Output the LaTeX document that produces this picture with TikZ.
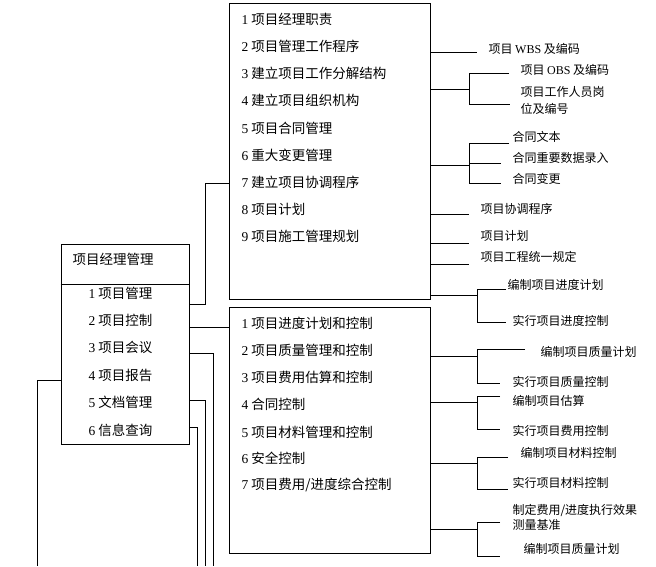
\documentclass[tikz,border=0pt]{standalone}
\usepackage{fontspec}
\setmainfont{Noto Sans CJK SC}
\newfontfamily\lat{Liberation Serif}

\begin{document}
\begin{tikzpicture}[x=1pt, y=-1pt, line width=1pt,
  box/.style={draw, inner sep=0pt},
  txt/.style={anchor=west, inner sep=0pt, font=\fontsize{13.5}{16}\selectfont},
  lbl/.style={anchor=west, inner sep=0pt, align=left, font=\fontsize{12}{17}\selectfont}]
  \useasboundingbox (0,0) rectangle (656,566);

  % les trois cadres
  \node[box, minimum width=201pt, minimum height=296pt] (A) at (329.5,151) {};
  \node[box, minimum width=201pt, minimum height=246pt] (B) at (329.5,430) {};
  \node[box, minimum width=128pt, minimum height=200pt] (C) at (125,344) {};
  \draw (C.west |- 0,284) -- (C.east |- 0,284);

  % cadre de gauche
  \node[txt] (C0) at (72,259) {项目经理管理};
  \node[txt] (C1) at (88,293) {{\lat 1} 项目管理};
  \node[txt] (C2) at (88,320) {{\lat 2} 项目控制};
  \node[txt] (C3) at (88,347) {{\lat 3} 项目会议};
  \node[txt] (C4) at (88,375) {{\lat 4} 项目报告};
  \node[txt] (C5) at (88,402) {{\lat 5} 文档管理};
  \node[txt] (C6) at (88,430) {{\lat 6} 信息查询};

  % cadre du haut
  \node[txt] (A1) at (241,19) {{\lat 1} 项目经理职责};
  \node[txt] (A2) at (241,46) {{\lat 2} 项目管理工作程序};
  \node[txt] (A3) at (241,73.5) {{\lat 3} 建立项目工作分解结构};
  \node[txt] (A4) at (241,100.5) {{\lat 4} 建立项目组织机构};
  \node[txt] (A5) at (241,128) {{\lat 5} 项目合同管理};
  \node[txt] (A6) at (241,155) {{\lat 6} 重大变更管理};
  \node[txt] (A7) at (241,182) {{\lat 7} 建立项目协调程序};
  \node[txt] (A8) at (241,209.5) {{\lat 8} 项目计划};
  \node[txt] (A9) at (241,236.5) {{\lat 9} 项目施工管理规划};

  % cadre du bas
  \node[txt] (B1) at (241,323) {{\lat 1} 项目进度计划和控制};
  \node[txt] (B2) at (241,350) {{\lat 2} 项目质量管理和控制};
  \node[txt] (B3) at (241,377) {{\lat 3} 项目费用估算和控制};
  \node[txt] (B4) at (241,404) {{\lat 4} 合同控制};
  \node[txt] (B5) at (241,432) {{\lat 5} 项目材料管理和控制};
  \node[txt] (B6) at (241,458) {{\lat 6} 安全控制};
  \node[txt] (B7) at (241,485) {{\lat 7} 项目费用/进度综合控制};

  % liaisons du cadre de gauche
  \draw (C.east |- 0,304) -- (205,304) |- (A.west |- 0,183);
  \draw (C.east |- 0,327) -- (B.west |- 0,327);
  \draw (C.east |- 0,353) -- (213,353) -- (213,566);
  \draw (C.west |- 0,380) -- (37,380) -- (37,566);
  \draw (C.east |- 0,400) -- (205,400) -- (205,566);
  \draw (C.east |- 0,427) -- (197,427) -- (197,566);

  % textes de droite
  \node[lbl] (wbs) at (488,49) {项目 {\lat WBS} 及编码};
  \node[lbl] (obs) at (520,70) {项目 {\lat OBS} 及编码};
  \node[lbl] (staff) at (520,100.5) {项目工作人员岗\\位及编号};
  \node[lbl] (ct1) at (512,137) {合同文本};
  \node[lbl] (ct2) at (512,158) {合同重要数据录入};
  \node[lbl] (ct3) at (512,179) {合同变更};
  \node[lbl] (coord) at (480,209) {项目协调程序};
  \node[lbl] (plan) at (480,236) {项目计划};
  \node[lbl] (rule) at (480,257) {项目工程统一规定};
  \node[lbl] (sch1) at (507,285) {编制项目进度计划};
  \node[lbl] (sch2) at (512,321) {实行项目进度控制};
  \node[lbl] (q1) at (540,352) {编制项目质量计划};
  \node[lbl] (q2) at (512,382) {实行项目质量控制};
  \node[lbl] (cost1) at (512,401) {编制项目估算};
  \node[lbl] (cost2) at (512,431) {实行项目费用控制};
  \node[lbl] (mat1) at (520,453) {编制项目材料控制};
  \node[lbl] (mat2) at (512,483) {实行项目材料控制};
  \node[lbl, font=\fontsize{12}{15}\selectfont] (base1) at (512,517.5) {制定费用/进度执行效果\\测量基准};
  \node[lbl] (base2) at (523,549) {编制项目质量计划};

  % liaisons du cadre du haut
  \draw (A.east |- 0,52) -- (477,52);
  \draw (A.east |- 0,89) -- (469,89);
  \draw (509,73) -- (469,73) -- (469,104) -- (510,104);
  \draw (A.east |- 0,165) -- (469,165);
  \draw (509,143) -- (469,143) -- (469,183) -- (501,183);
  \draw (469,163) -- (501,163);
  \draw (A.east |- 0,214) -- (469,214);
  \draw (A.east |- 0,243) -- (469,243);
  \draw (A.east |- 0,264) -- (469,264);
  \draw (A.east |- 0,295) -- (477,295);
  \draw (506,289) -- (477,289) -- (477,322) -- (506,322);

  % liaisons du cadre du bas
  \draw (B.east |- 0,356) -- (477,356);
  \draw (525,349) -- (477,349) -- (477,383) -- (500,383);
  \draw (B.east |- 0,402) -- (477,402);
  \draw (500,396) -- (477,396) -- (477,429) -- (500,429);
  \draw (B.east |- 0,463) -- (477,463);
  \draw (508,457) -- (477,457) -- (477,489) -- (508,489);
  \draw (B.east |- 0,529) -- (477,529);
  \draw (500,522) -- (477,522) -- (477,556) -- (500,556);
\end{tikzpicture}
\end{document}
